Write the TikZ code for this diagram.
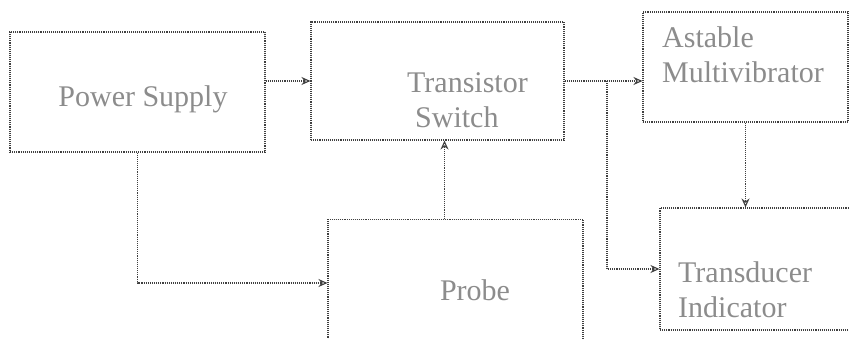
\documentclass[tikz,border=0pt]{standalone}
\usepackage{fontspec}
\setmainfont{Liberation Serif}
\usetikzlibrary{arrows.meta}
\begin{document}
\begin{tikzpicture}[x=1pt,y=-1pt,
  blockbox/.style={draw=black!75, densely dotted, line width=1.1pt, minimum width=#1, inner sep=0pt},
  blockbox/.default=100pt,
  lbl/.style={text=black!45, font=\fontsize{30}{35}\selectfont, inner sep=0pt},
  arr/.style={draw=black!75, densely dotted, line width=1.1pt, -{Stealth[open, length=9pt, width=8pt]}}]
\useasboundingbox (0,0) rectangle (849,339);
\clip (0,0) rectangle (849,339);
\node[blockbox=255pt, minimum height=120pt] (ps) at (137.5,92) {};
\node[blockbox=253pt, minimum height=118pt] (ts) at (437.5,81) {};
\node[blockbox=205pt, minimum height=110pt] (am) at (745.5,67) {};
\node[blockbox=195pt, minimum height=122pt] (ti) at (757.5,269) {};
\node[blockbox=255pt, minimum height=127pt] (pr) at (455.5,283) {};
\node[lbl, anchor=base] (tps) at (143,107) {Power Supply};
\node[lbl, anchor=base west, align=left] (tts) at (407,128) {Transistor\\\hspace{8pt}Switch};
\node[lbl, anchor=base west, align=left] (tam) at (662,83) {Astable\\Multivibrator};
\node[lbl, anchor=base west, align=left] (tti) at (678,317) {Transducer\\Indicator};
\node[lbl, anchor=base] (tpr) at (475,300) {Probe};
\coordinate (split) at (607,81);
\draw[arr] (ps.east |- ts.west) -- (ts.west);
\draw[arr] (ts.east) -- (am.west |- ts.east);
\draw[arr] (split) |- (ti.west);
\draw[arr] (am.south) -- (am.south |- ti.north);
\draw[arr] (ps.south) |- (pr.west);
\draw[arr] ([xshift=-11pt]pr.north) -- ([xshift=-11pt]pr.north |- ts.south);
\end{tikzpicture}
\end{document}
